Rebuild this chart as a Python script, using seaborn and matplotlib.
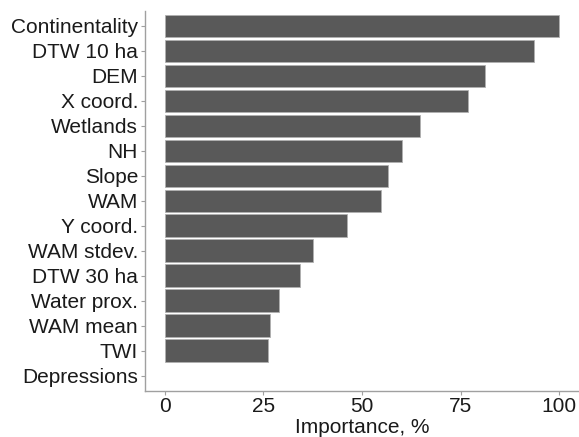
import matplotlib
matplotlib.use("Agg")
import matplotlib.pyplot as plt
import seaborn as sns
import pandas as pd

variables = ["Continentality", "DTW 10 ha", "DEM", "X coord.", "Wetlands", "NH",
             "Slope", "WAM", "Y coord.", "WAM stdev.", "DTW 30 ha", "Water prox.",
             "WAM mean", "TWI", "Depressions"]
importance = [100, 93.7, 81.3, 76.8, 64.6, 60.1, 56.7, 54.8, 46.3, 37.5, 34.3, 28.9,
              26.7, 26.3, 0]
x_ticks = [0, 25, 50, 75, 100]

df = pd.DataFrame({"variable": variables, "importance": importance})

sns.set_style("white")
plt.rcParams["font.family"] = ["Liberation Sans", "DejaVu Sans"]

fig = plt.figure(figsize=(5.79, 4.37), dpi=100)
ax = fig.add_axes([0.2504, 0.1064, 0.7496, 0.8684])

sns.barplot(data=df, x="importance", y="variable", order=variables, orient="h",
            color="#595959", saturation=1, width=0.9, edgecolor="#b0b0b0",
            linewidth=0.6, ax=ax)

# zero-length bars show no outline
for patch in ax.patches:
    if patch.get_width() == 0:
        patch.set_linewidth(0)
        patch.set_edgecolor("none")

ax.set_xlim(-5, 105)
ax.set_ylim(len(variables) - 1 + 0.6, -0.6)
ax.set_xticks(x_ticks)
ax.set_xticklabels([str(t) for t in x_ticks])
ax.set_xlabel("Importance, %", fontsize=15, color="#1a1a1a", labelpad=1)
ax.set_ylabel("")

for s in ["top", "right"]:
    ax.spines[s].set_visible(False)
for s in ["left", "bottom"]:
    ax.spines[s].set_color("#a0a0a0")
    ax.spines[s].set_linewidth(1.0)

ax.tick_params(axis="both", which="major", length=3, width=0.8, color="#a0a0a0",
               labelsize=15, labelcolor="#1a1a1a", pad=2, left=True, bottom=True)

fig.savefig("out.png", dpi=100)
